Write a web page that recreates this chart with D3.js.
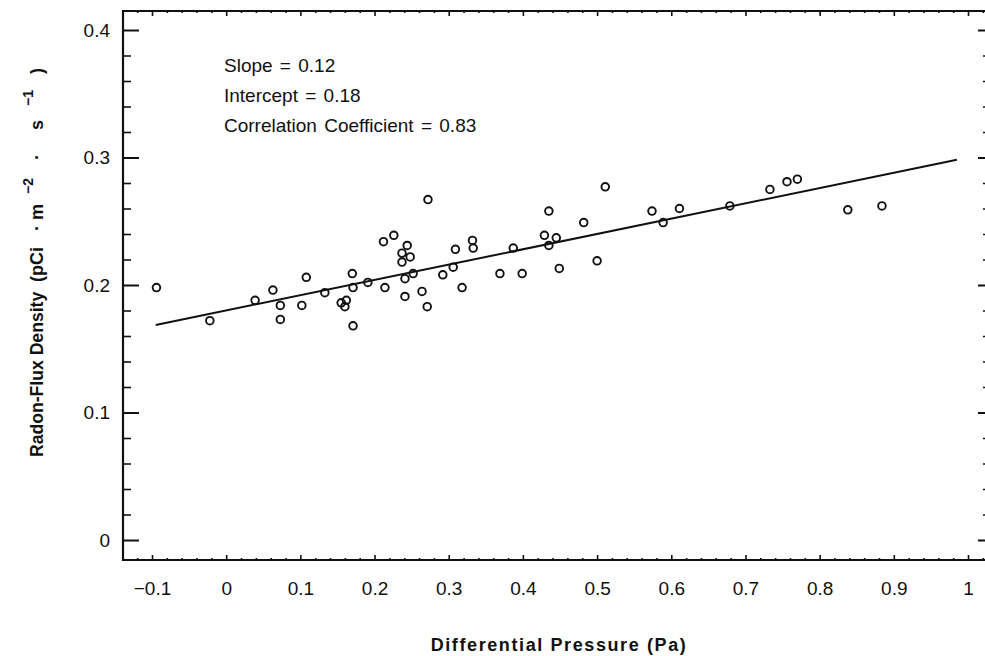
<!DOCTYPE html>
<html>
<head>
<meta charset="utf-8">
<script src="https://cdn.jsdelivr.net/npm/d3@7"></script>
<style>
  html, body { margin: 0; padding: 0; background: #fff; }
  svg { display: block; font-family: "Liberation Sans", Arial, Helvetica, sans-serif; }
</style>
</head>
<body>
<div id="chart"></div>
<script>
// Observations: differential pressure (Pa) vs radon-flux density
const pressure = [
  -0.094, -0.022, 0.039, 0.063, 0.073, 0.073, 0.108, 0.102, 0.133, 0.155,
  0.162, 0.160, 0.170, 0.171, 0.171, 0.191, 0.214, 0.212, 0.226, 0.244,
  0.237, 0.248, 0.237, 0.241, 0.252, 0.241, 0.264, 0.271, 0.272, 0.292,
  0.309, 0.306, 0.318, 0.332, 0.333, 0.369, 0.387, 0.399, 0.435, 0.429,
  0.445, 0.435, 0.449, 0.482, 0.500, 0.511, 0.574, 0.589, 0.611, 0.679,
  0.733, 0.756, 0.770, 0.838, 0.884
];
const flux = [
  0.198, 0.172, 0.188, 0.196, 0.184, 0.173, 0.206, 0.184, 0.194, 0.186,
  0.188, 0.183, 0.209, 0.198, 0.168, 0.202, 0.198, 0.234, 0.239, 0.231,
  0.225, 0.222, 0.218, 0.205, 0.209, 0.191, 0.195, 0.183, 0.267, 0.208,
  0.228, 0.214, 0.198, 0.235, 0.229, 0.209, 0.229, 0.209, 0.258, 0.239,
  0.237, 0.231, 0.213, 0.249, 0.219, 0.277, 0.258, 0.249, 0.260, 0.262,
  0.275, 0.281, 0.283, 0.259, 0.262
];
const slope = 0.12;
const intercept = 0.18;
const corr = 0.83;
const fitRange = [-0.095, 0.985];

const xTicks = [-0.1, 0, 0.1, 0.2, 0.3, 0.4, 0.5, 0.6, 0.7, 0.8, 0.9, 1];
const xTickLabels = ['\u22120.1', '0', '0.1', '0.2', '0.3', '0.4', '0.5', '0.6', '0.7', '0.8', '0.9', '1'];
const yTicks = [0, 0.1, 0.2, 0.3, 0.4];
const yTickLabels = ['0', '0.1', '0.2', '0.3', '0.4'];
const notes = [
  `Slope = ${slope.toFixed(2)}`,
  `Intercept = ${intercept.toFixed(2)}`,
  `Correlation Coefficient = ${corr.toFixed(2)}`
];

const W = 985, H = 656;
const box = { left: 123, right: 988, top: 11, bottom: 560 };
const ink = '#111';

const svg = d3.select('#chart').append('svg').attr('width', W).attr('height', H);

const x = d3.scaleLinear().domain([-0.1, 1]).range([152, 968]);
const y = d3.scaleLinear().domain([0, 0.4]).range([540, 30]);

const minorX = d3.range(-0.12, 1.03, 0.02).map(v => +v.toFixed(2)).filter(v => !xTicks.includes(v));
const minorY = d3.range(0, 0.41, 0.02).map(v => +v.toFixed(2)).filter(v => !yTicks.includes(v));

function clean(sel) {
  sel.select('.domain').remove();
  sel.selectAll('line').attr('stroke', ink).attr('stroke-width', 1.6);
}
function labels(sel) {
  sel.selectAll('text').attr('fill', ink).style('font-size', '19px').attr('font-family', null);
}

// left axis
svg.append('g').attr('transform', `translate(${box.left},0)`)
  .call(d3.axisLeft(y).tickValues(yTicks).tickSize(-16).tickPadding(13)
    .tickFormat((d, i) => yTickLabels[i]))
  .call(clean).call(labels)
  .call(s => s.selectAll('line').attr('stroke-width', 2));
svg.append('g').attr('transform', `translate(${box.left},0)`)
  .call(d3.axisLeft(y).tickValues(minorY).tickSize(-8).tickFormat(''))
  .call(clean);

// right axis
svg.append('g').attr('transform', `translate(${box.right},0)`)
  .call(d3.axisRight(y).tickValues(yTicks).tickSize(-10).tickFormat(''))
  .call(clean).call(s => s.selectAll('line').attr('stroke-width', 2));
svg.append('g').attr('transform', `translate(${box.right},0)`)
  .call(d3.axisRight(y).tickValues(minorY).tickSize(-5).tickFormat(''))
  .call(clean);

// bottom axis
svg.append('g').attr('transform', `translate(0,${box.bottom})`)
  .call(d3.axisBottom(x).tickValues(xTicks).tickSize(-5).tickPadding(22)
    .tickFormat((d, i) => xTickLabels[i]))
  .call(clean).call(labels);
svg.append('g').attr('transform', `translate(0,${box.bottom})`)
  .call(d3.axisBottom(x).tickValues(minorX).tickSize(-2).tickFormat(''))
  .call(clean);

// top axis
svg.append('g').attr('transform', `translate(0,${box.top})`)
  .call(d3.axisTop(x).tickValues(xTicks).tickSize(-5).tickFormat(''))
  .call(clean);
svg.append('g').attr('transform', `translate(0,${box.top})`)
  .call(d3.axisTop(x).tickValues(minorX).tickSize(-2).tickFormat(''))
  .call(clean);

// frame
svg.append('path')
  .attr('d', `M${box.left},${box.top}H${box.right}V${box.bottom}H${box.left}Z`)
  .attr('fill', 'none').attr('stroke', ink).attr('stroke-width', 2.2);

// regression line
const fit = d3.line().x(d => x(d)).y(d => y(intercept + slope * d));
svg.append('path').attr('d', fit(fitRange))
  .attr('fill', 'none').attr('stroke', ink).attr('stroke-width', 2);

// points
svg.append('g').selectAll('circle').data(pressure).join('circle')
  .attr('cx', d => x(d))
  .attr('cy', (d, i) => y(flux[i]))
  .attr('r', 3.8)
  .attr('fill', 'none').attr('stroke', ink).attr('stroke-width', 1.9);

// annotation
svg.append('g').selectAll('text').data(notes).join('text')
  .attr('x', 224).attr('y', (d, i) => 72 + i * 30)
  .attr('fill', ink).style('font-size', '19px')
  .style('word-spacing', '2px')
  .text(d => d);

// axis titles
svg.append('text')
  .attr('x', 559).attr('y', 651).attr('text-anchor', 'middle')
  .attr('fill', ink).style('font-size', '18px').style('font-weight', 'bold')
  .style('letter-spacing', '1.6px')
  .text('Differential Pressure (Pa)');

// y title: pieces placed along the rotated baseline (x = -screenY)
const yt = svg.append('text')
  .attr('transform', 'translate(43,0) rotate(-90)')
  .attr('fill', ink).style('font-size', '18px').style('font-weight', 'bold');
const piece = (txt, at, sup, size) => yt.append('tspan')
  .attr('x', -at).attr('y', sup ? -10 : 0)
  .style('font-size', sup ? '14px' : (size || null))
  .text(txt);
piece('Radon-Flux Density', 457, false, '17.6px');
piece('(pCi', 282);
piece('\u00b7', 231);
piece('m', 220);
piece('\u22122', 194, true);
piece('\u00b7', 160);
piece('s', 130);
piece('\u22121', 106, true);
piece(')', 74);
</script>
</body>
</html>
